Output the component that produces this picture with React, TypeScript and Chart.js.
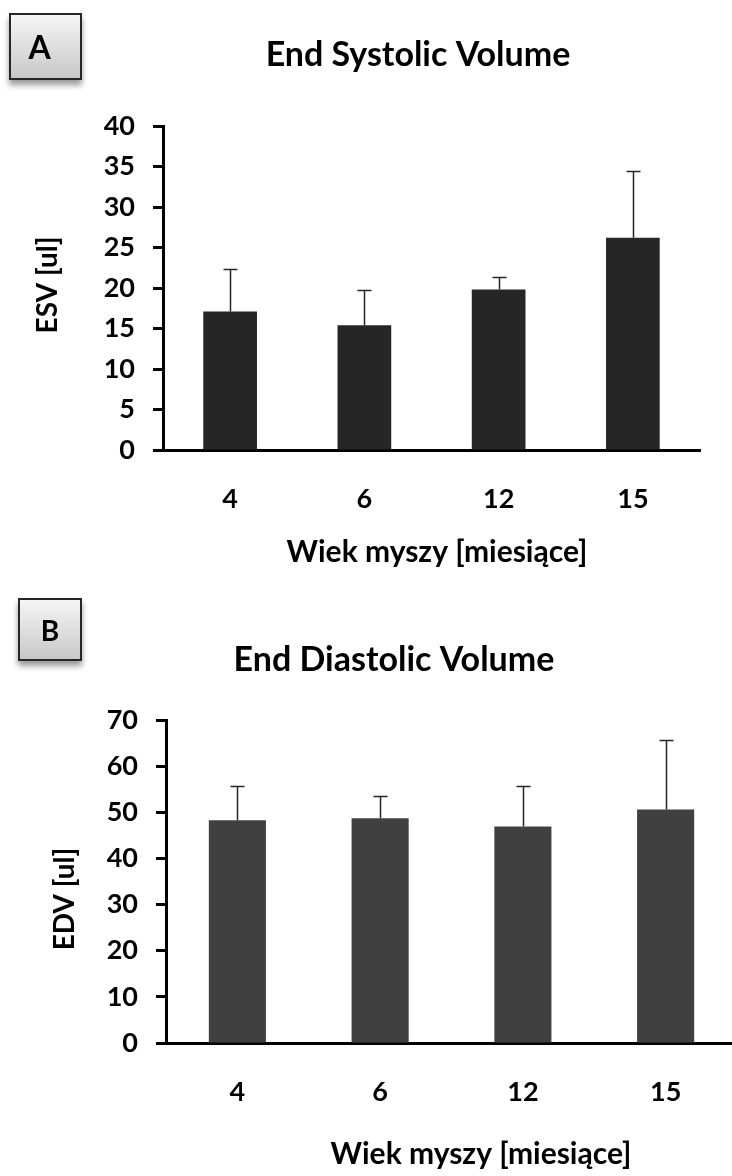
import { useEffect, useRef } from "react";
import { Chart, registerables } from "chart.js";

Chart.register(...registerables);

// Age groups (months) and cardiac volume measurements, mean with upper SD
const ageMonths = ["4", "6", "12", "15"];

const esvMean = [17.1, 15.4, 19.8, 26.2];
const esvSd = [5.2, 4.4, 1.6, 8.2];

const edvMean = [48.3, 48.7, 46.9, 50.6];
const edvSd = [7.4, 4.8, 8.8, 15.1];

const esvAxis = { max: 40, step: 5 };
const edvAxis = { max: 70, step: 10 };

const FONT = "Lato, 'Open Sans', sans-serif";

// Draws the upper error whisker with a cap on every bar
const errorBars = {
  id: "errorBars",
  afterDatasetsDraw(chart: any, _args: any, opts: any) {
    const { ctx } = chart;
    const yScale = chart.scales.y;
    const meta = chart.getDatasetMeta(0);
    const means = chart.data.datasets[0].data as number[];
    const sd = opts.sd as number[];
    ctx.save();
    ctx.strokeStyle = opts.color;
    ctx.lineWidth = 1.5;
    meta.data.forEach((bar: any, i: number) => {
      const x = Math.round(bar.x) + 0.5;
      const y0 = yScale.getPixelForValue(means[i]);
      const y1 = Math.round(yScale.getPixelForValue(means[i] + sd[i])) + 0.5;
      ctx.beginPath();
      ctx.moveTo(x, y0);
      ctx.lineTo(x, y1);
      ctx.moveTo(x - 7, y1);
      ctx.lineTo(x + 7, y1);
      ctx.stroke();
    });
    ctx.restore();
  },
};

// Panel heading and both axis titles placed at fixed canvas positions
const panelText = {
  id: "panelText",
  afterDraw(chart: any, _args: any, opts: any) {
    const { ctx } = chart;
    ctx.save();
    ctx.fillStyle = "#000";
    ctx.textAlign = "center";
    ctx.textBaseline = "alphabetic";
    ctx.font = `bold ${opts.titleSize}px ${FONT}`;
    ctx.fillText(opts.title, opts.titleX, opts.titleY);
    ctx.font = `bold ${opts.axisSize}px ${FONT}`;
    ctx.fillText(opts.xTitle, opts.xTitleX, opts.xTitleY);
    ctx.translate(opts.yTitleX, opts.yTitleY);
    ctx.rotate(-Math.PI / 2);
    ctx.textBaseline = "middle";
    ctx.font = `bold ${opts.yAxisSize}px ${FONT}`;
    ctx.fillText(opts.yTitle, 0, 0);
    ctx.restore();
  },
};

type PanelProps = {
  width: number;
  height: number;
  means: number[];
  sd: number[];
  axis: { max: number; step: number };
  barColor: string;
  yWidth: number;
  padding: { top: number; right: number; bottom: number };
  text: Record<string, any>;
};

function Panel({ width, height, means, sd, axis, barColor, yWidth, padding, text }: PanelProps) {
  const ref = useRef<HTMLCanvasElement>(null);

  useEffect(() => {
    if (!ref.current) return;
    const tickFont = { family: FONT, weight: "bold" as const, size: 27 };
    const chart = new Chart(ref.current, {
      type: "bar",
      data: {
        labels: ageMonths,
        datasets: [
          {
            data: means,
            backgroundColor: barColor,
            borderWidth: 0,
            barPercentage: 0.4,
            categoryPercentage: 1,
          },
        ],
      },
      options: {
        responsive: false,
        animation: false,
        layout: { padding: { left: 0, ...padding } },
        plugins: {
          legend: { display: false },
          tooltip: { enabled: false },
          errorBars: { sd, color: "#262626" },
          panelText: text,
        } as any,
        scales: {
          x: {
            grid: { display: false },
            border: { display: true, color: "#000", width: 3 },
            ticks: { font: tickFont, color: "#000", padding: 25 },
            afterFit: (s: any) => {
              s.height = 70;
            },
          },
          y: {
            min: 0,
            max: axis.max,
            ticks: { stepSize: axis.step, font: tickFont, color: "#000", padding: 18 },
            grid: {
              drawOnChartArea: false,
              drawTicks: true,
              tickLength: 10,
              tickWidth: 3,
              tickColor: "#000",
            },
            border: { display: true, color: "#000", width: 3 },
            afterFit: (s: any) => {
              s.width = yWidth;
            },
          },
        },
      },
      plugins: [errorBars, panelText],
    });
    return () => chart.destroy();
  }, []);

  return <canvas ref={ref} width={width} height={height} style={{ display: "block" }} />;
}

const boxStyle = (left: number, top: number, w: number, h: number): React.CSSProperties => ({
  position: "absolute",
  left,
  top,
  width: w,
  height: h,
  boxSizing: "border-box",
  border: "2px solid #262626",
  background: "linear-gradient(#f5f5f5, #c8c8c8)",
  boxShadow: "0 5px 6px rgba(0,0,0,0.4)",
  fontFamily: FONT,
  fontWeight: 700,
  color: "#000",
  display: "flex",
  alignItems: "center",
  justifyContent: "center",
});

export default function App() {
  return (
    <div
      style={{
        position: "absolute",
        left: 0,
        top: 0,
        width: 732,
        height: 1176,
        overflow: "hidden",
        background: "#fff",
      }}
    >
      <div style={{ position: "absolute", left: 0, top: 0 }}>
        <Panel
          width={732}
          height={590}
          means={esvMean}
          sd={esvSd}
          axis={esvAxis}
          barColor="#262626"
          yWidth={163}
          padding={{ top: 126, right: 32, bottom: 70 }}
          text={{
            title: "End Systolic Volume",
            titleSize: 34,
            titleX: 418,
            titleY: 66,
            xTitle: "Wiek myszy [miesiące]",
            axisSize: 30,
            xTitleX: 437,
            xTitleY: 562,
            yTitle: "ESV [ul]",
            yAxisSize: 28,
            yTitleX: 48,
            yTitleY: 285,
          }}
        />
      </div>
      <div style={{ position: "absolute", left: 0, top: 590 }}>
        <Panel
          width={740}
          height={586}
          means={edvMean}
          sd={edvSd}
          axis={edvAxis}
          barColor="#404040"
          yWidth={166}
          padding={{ top: 130, right: 3, bottom: 63 }}
          text={{
            title: "End Diastolic Volume",
            titleSize: 34,
            titleX: 394,
            titleY: 81,
            xTitle: "Wiek myszy [miesiące]",
            axisSize: 30,
            xTitleX: 481,
            xTitleY: 574,
            yTitle: "EDV [ul]",
            yAxisSize: 28,
            yTitleX: 65,
            yTitleY: 309,
          }}
        />
      </div>
      <div style={{ ...boxStyle(9, 13, 73, 67), fontSize: 32, paddingRight: 12 }}>A</div>
      <div style={{ ...boxStyle(18, 598, 64, 63), fontSize: 28 }}>B</div>
    </div>
  );
}
